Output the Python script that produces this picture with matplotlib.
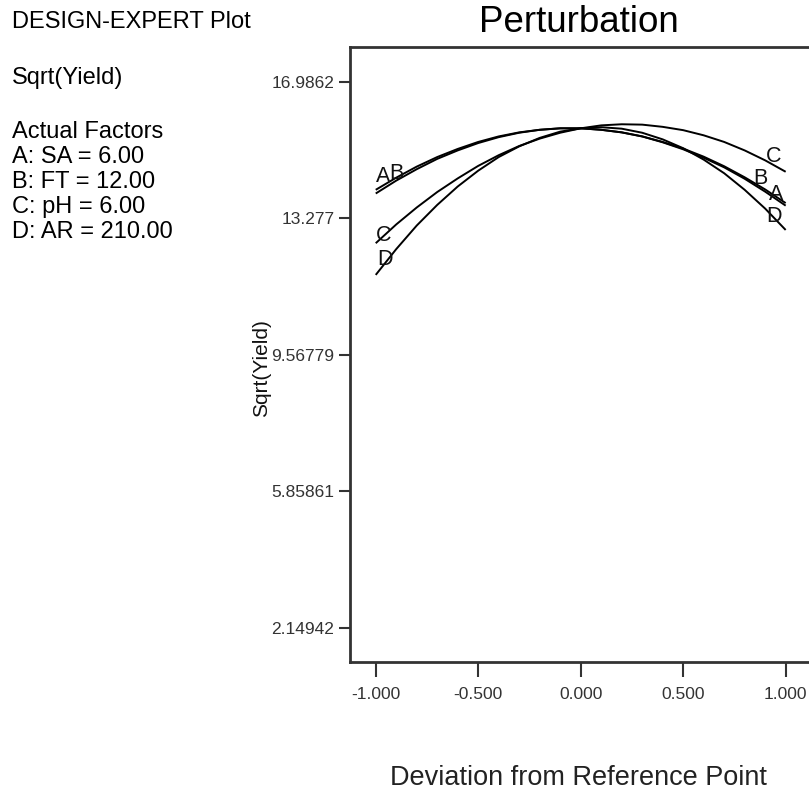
import matplotlib
matplotlib.use("Agg")
import matplotlib.pyplot as plt

plt.rcParams['font.family'] = ['Liberation Sans', 'DejaVu Sans']

# Deviation from reference point (coded units)
deviation = [-1.0, -0.9, -0.8, -0.7, -0.6, -0.5, -0.4, -0.3, -0.2, -0.1, 0.0,
             0.1, 0.2, 0.3, 0.4, 0.5, 0.6, 0.7, 0.8, 0.9, 1.0]

# Sqrt(Yield)
curve_A = [13.95, 14.30, 14.61, 14.89, 15.12, 15.32, 15.48, 15.60, 15.68, 15.72, 15.72,
           15.68, 15.61, 15.50, 15.34, 15.15, 14.92, 14.66, 14.35, 14.00, 13.62]
curve_B = [14.05, 14.38, 14.68, 14.94, 15.16, 15.35, 15.50, 15.61, 15.68, 15.72, 15.72,
           15.68, 15.61, 15.50, 15.35, 15.17, 14.95, 14.69, 14.39, 14.06, 13.69]
curve_C = [12.60, 13.11, 13.57, 13.99, 14.36, 14.70, 14.99, 15.24, 15.44, 15.60, 15.72,
           15.80, 15.83, 15.82, 15.76, 15.67, 15.53, 15.35, 15.12, 14.85, 14.54]
curve_D = [11.74, 12.44, 13.08, 13.64, 14.14, 14.57, 14.94, 15.23, 15.46, 15.63, 15.72,
           15.75, 15.71, 15.60, 15.42, 15.18, 14.87, 14.50, 14.05, 13.54, 12.96]

curve_names = ['A', 'B', 'C', 'D']
# label anchor points (deviation, value) at left and right ends
label_left = {'A': (-0.963, 14.41), 'B': (-0.897, 14.50), 'C': (-0.963, 12.82), 'D': (-0.955, 12.15)}
label_right = {'A': (0.954, 13.91), 'B': (0.875, 14.36), 'C': (0.939, 14.95), 'D': (0.943, 13.32)}

y_ticks = [2.14942, 5.85861, 9.56779, 13.277, 16.9862]
y_tick_labels = ['2.14942', '5.85861', '9.56779', '13.277', '16.9862']
x_ticks = [-1.0, -0.5, 0.0, 0.5, 1.0]
x_tick_labels = ['-1.000', '-0.500', '0.000', '0.500', '1.000']

side_text = ['Actual Factors', 'A: SA = 6.00', 'B: FT = 12.00', 'C: pH = 6.00', 'D: AR = 210.00']

W, H = 809, 794
fig = plt.figure(figsize=(W / 100, H / 100), dpi=100)
ax = fig.add_axes([349.7 / W, (H - 662) / H, (811.7 - 349.7) / W, (662 - 47) / H])

for vals in (curve_A, curve_B, curve_C, curve_D):
    ax.plot(deviation, vals, color='black', lw=1.4, solid_capstyle='butt')

for name in curve_names:
    for pos in (label_left[name], label_right[name]):
        ax.text(pos[0], pos[1], name, ha='center', va='center', fontsize=15.5, color='#111111')

ax.set_xlim(-1.127, 1.127)
ax.set_ylim(1.229, 17.928)
ax.set_xticks(x_ticks)
ax.set_xticklabels(x_tick_labels)
ax.set_yticks(y_ticks)
ax.set_yticklabels(y_tick_labels)
ax.tick_params(axis='x', direction='out', length=11, width=1.5, pad=7, labelsize=12.5,
               colors='#333333', labelcolor='#333333')
ax.tick_params(axis='y', direction='out', length=8, width=1.5, pad=3, labelsize=12.5,
               colors='#333333', labelcolor='#333333')
for s in ax.spines.values():
    s.set_linewidth(2)
    s.set_color('#333333')

fig.text(579 / W, 1 - 22 / H, 'Perturbation', ha='center', va='center', fontsize=26.5)
fig.text(578 / W, 1 - 778 / H, 'Deviation from Reference Point', ha='center', va='center',
         fontsize=19.5, color='#222222')
fig.text(262 / W, 1 - 368 / H, 'Sqrt(Yield)', ha='center', va='center', rotation=90,
         fontsize=15, color='#111111')

fig.text(12 / W, 1 - 22 / H, 'DESIGN-EXPERT Plot', ha='left', va='center', fontsize=17)
fig.text(12 / W, 1 - 78 / H, 'Sqrt(Yield)', ha='left', va='center', fontsize=17)
for i, t in enumerate(side_text):
    fig.text(12 / W, 1 - (132 + 25 * i) / H, t, ha='left', va='center', fontsize=17)

fig.savefig('out.png', dpi=100)
